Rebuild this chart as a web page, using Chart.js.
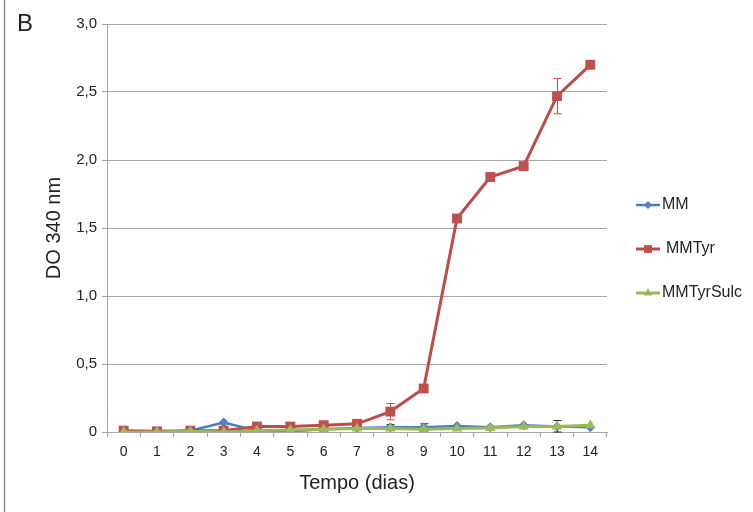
<!DOCTYPE html>
<html>
<head>
<meta charset="utf-8">
<script src="https://cdn.jsdelivr.net/npm/chart.js@4/dist/chart.umd.min.js"></script>
<style>
  html, body { margin: 0; padding: 0; background: #fff; }
  #wrap { width: 753px; height: 512px; }
</style>
</head>
<body>
<div id="wrap"><canvas id="grafico" width="753" height="512"></canvas></div>
<script>
// dati
const dias = ['0', '1', '2', '3', '4', '5', '6', '7', '8', '9', '10', '11', '12', '13', '14'];
const mm = [0.0, 0.0, 0.01, 0.07, 0.01, 0.005, 0.02, 0.03, 0.035, 0.035, 0.045, 0.035, 0.05, 0.04, 0.035];
const mmTyr = [0.01, 0.005, 0.01, 0.01, 0.04, 0.04, 0.05, 0.06, 0.15, 0.32, 1.57, 1.875, 1.955, 2.47, 2.70];
const mmTyrSulc = [0.0, 0.0, 0.005, 0.0, 0.01, 0.015, 0.02, 0.025, 0.025, 0.02, 0.025, 0.03, 0.04, 0.04, 0.05];
// barre d'errore (deviazione)
const erroMM = [0, 0, 0, 0, 0, 0, 0, 0, 0.02, 0.025, 0, 0, 0, 0.045, 0];
const erroMMTyr = [0, 0, 0, 0, 0, 0, 0, 0, 0.06, 0, 0, 0, 0, 0.13, 0];
const yTicks = ['0', '0,5', '1,0', '1,5', '2,0', '2,5', '3,0'];

const fonte = '"Liberation Sans", Arial, sans-serif';
const grigio = '#a6a6a6';

// plugin: bordo, lettera B, barre d'errore e legenda
const extra = {
    id: 'extra',
    beforeDraw(chart) {
        const ctx = chart.ctx;
        ctx.save();
        ctx.strokeStyle = '#8c8c8c';
        ctx.lineWidth = 1.5;
        ctx.beginPath();
        ctx.moveTo(4.5, 0);
        ctx.lineTo(4.5, 512);
        ctx.stroke();
        ctx.fillStyle = '#222';
        ctx.font = '24px ' + fonte;
        ctx.textBaseline = 'top';
        ctx.fillText('B', 17, 12);
        ctx.restore();
    },
    beforeDatasetsDraw(chart) {
        const ctx = chart.ctx;
        const x = chart.scales.x;
        const y = chart.scales.y;
        const bars = [[mm, erroMM, '#222'], [mmTyr, erroMMTyr, '#c0504d']];
        ctx.save();
        ctx.lineWidth = 1;
        for (const [vals, errs, col] of bars) {
            ctx.strokeStyle = col;
            errs.forEach((e, i) => {
                if (!e) return;
                const px = Math.round(x.getPixelForValue(i)) + 0.5;
                const top = y.getPixelForValue(vals[i] + e);
                const bot = y.getPixelForValue(Math.max(vals[i] - e, 0));
                ctx.beginPath();
                ctx.moveTo(px, top); ctx.lineTo(px, bot);
                ctx.moveTo(px - 4, top); ctx.lineTo(px + 4, top);
                ctx.moveTo(px - 4, bot); ctx.lineTo(px + 4, bot);
                ctx.stroke();
            });
        }
        ctx.restore();
    },
    afterDraw(chart) {
        const ctx = chart.ctx;
        const voci = chart.data.datasets;
        ctx.save();
        voci.forEach((ds, i) => {
            const ly = 205 + i * 44;
            ctx.strokeStyle = ds.borderColor;
            ctx.lineWidth = ds.borderWidth;
            ctx.beginPath();
            ctx.moveTo(636, ly); ctx.lineTo(660, ly);
            ctx.stroke();
            ctx.fillStyle = ds.pointBackgroundColor;
            Chart.helpers.drawPoint(ctx, {
                pointStyle: ds.pointStyle, radius: ds.pointRadius * 0.8, rotation: 0, borderWidth: 0
            }, 648, ly);
            ctx.fillStyle = '#222';
            ctx.font = '16px ' + fonte;
            ctx.textBaseline = 'middle';
            ctx.fillText(ds.label, i === 1 ? 666 : 662, ly);
        });
        ctx.restore();
    }
};

new Chart(document.getElementById('grafico'), {
    type: 'line',
    data: {
        labels: dias,
        datasets: [{
            label: 'MM',
            data: mm,
            borderColor: '#4a7ebb',
            backgroundColor: '#4f81bd',
            pointBackgroundColor: '#4f81bd',
            pointBorderWidth: 0,
            pointStyle: 'rectRot',
            pointRadius: 5,
            borderWidth: 2.5,
            order: 2
        }, {
            label: 'MMTyr',
            data: mmTyr,
            borderColor: '#be4b48',
            backgroundColor: '#c0504d',
            pointBackgroundColor: '#c0504d',
            pointBorderWidth: 0,
            pointStyle: 'rect',
            pointRadius: 7,
            borderWidth: 3,
            order: 1
        }, {
            label: 'MMTyrSulc',
            data: mmTyrSulc,
            borderColor: '#98b954',
            backgroundColor: '#9bbb59',
            pointBackgroundColor: '#9bbb59',
            pointBorderWidth: 0,
            pointStyle: 'triangle',
            pointRadius: 6,
            borderWidth: 3,
            order: 0
        }]
    },
    options: {
        responsive: false,
        animation: false,
        layout: { padding: { top: 24, right: 146, left: 0, bottom: 0 } },
        plugins: {
            legend: { display: false },
            tooltip: { enabled: false }
        },
        scales: {
            x: {
                offset: true,
                grid: { offset: true, drawOnChartArea: false, color: grigio, tickLength: 5 },
                border: { color: grigio, width: 1 },
                ticks: { color: '#222', font: { family: fonte, size: 14 }, padding: 7, maxRotation: 0 },
                title: { display: true, text: 'Tempo (dias)', color: '#222', font: { family: fonte, size: 20 }, padding: { top: 0, bottom: 17 } },
                afterFit(s) { s.height = 80; }
            },
            y: {
                min: 0,
                max: 3,
                grid: { color: grigio, tickLength: 5 },
                border: { color: grigio, width: 1 },
                ticks: {
                    stepSize: 0.5,
                    color: '#222',
                    font: { family: fonte, size: 15 },
                    padding: 5,
                    callback: (v, i) => yTicks[i]
                },
                title: { display: true, text: 'DO 340 nm', color: '#222', font: { family: fonte, size: 20 }, padding: { top: 42, bottom: 0 } },
                afterFit(s) { s.width = 107; }
            }
        }
    },
    plugins: [extra]
});
</script>
</body>
</html>
